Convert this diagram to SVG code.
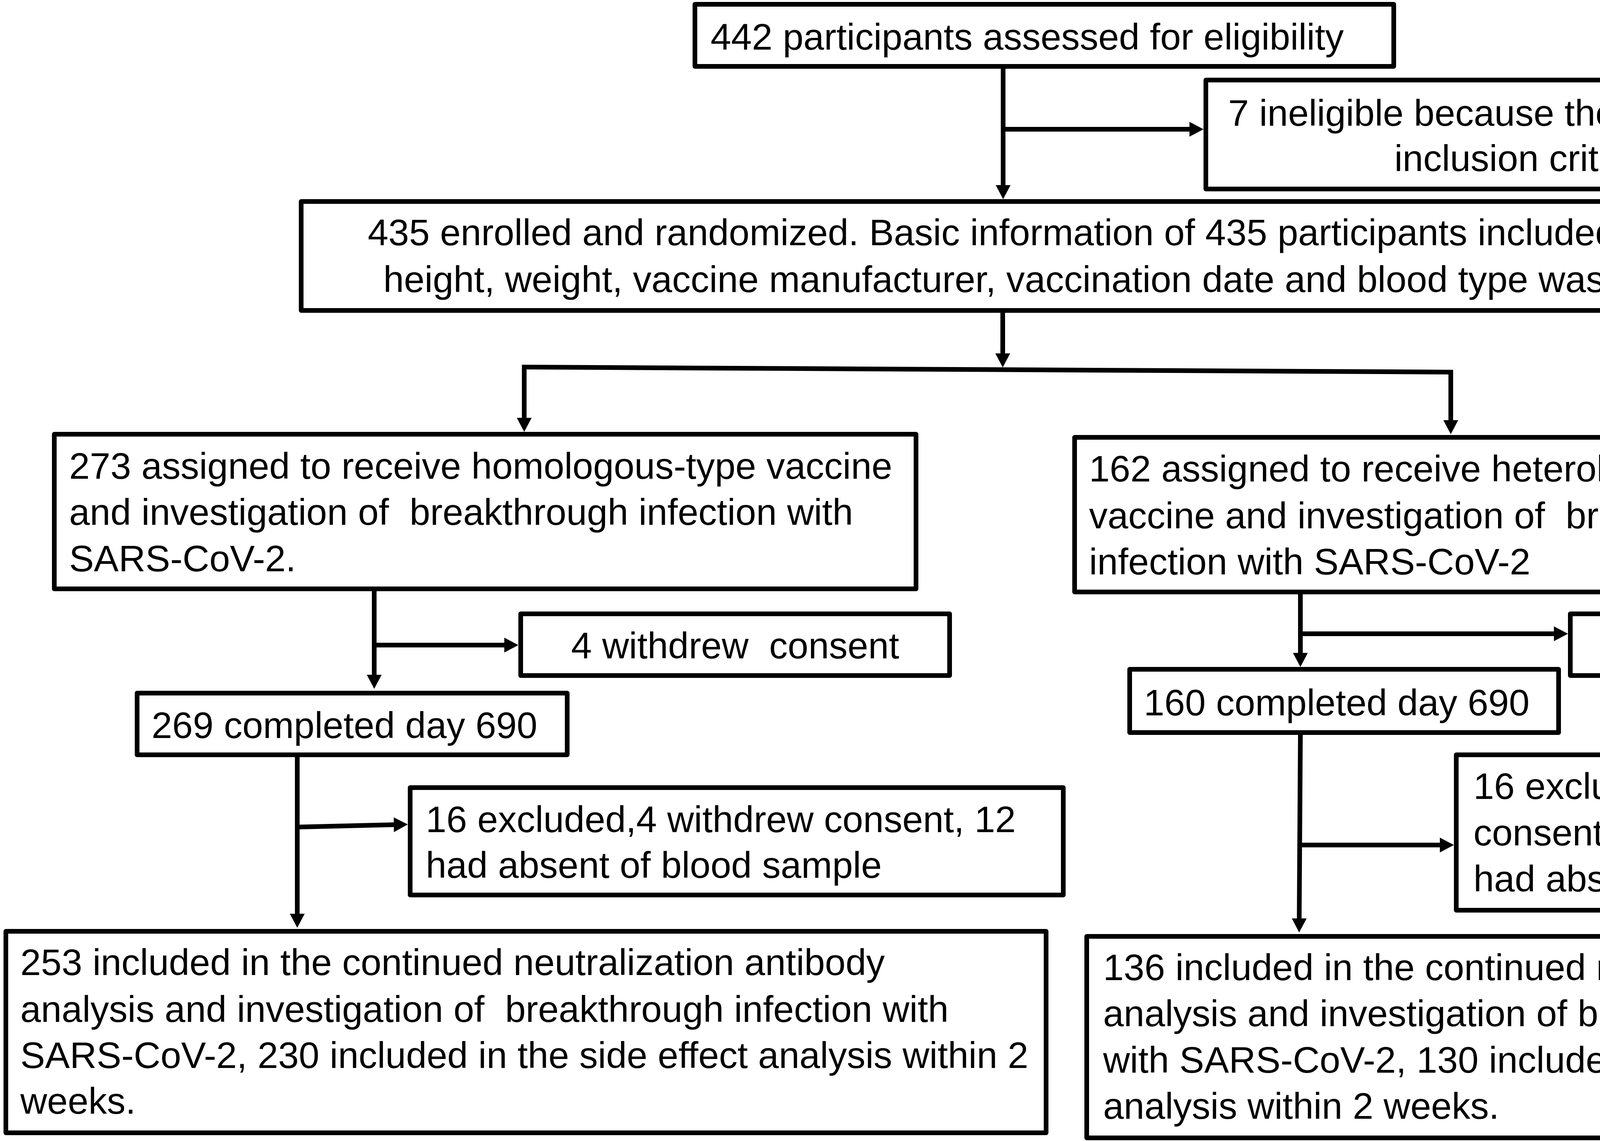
<svg xmlns="http://www.w3.org/2000/svg" width="5197" height="2922" viewBox="0 0 5197 2922">
<style>
.box{fill:#fff;stroke:#000;stroke-width:12;stroke-linejoin:round}
.t{font-family:"Liberation Sans",Arial,sans-serif;font-size:95px;fill:#000;white-space:pre}
.c{text-anchor:middle}
.ln{fill:none;stroke:#000;stroke-width:12}
</style>
<defs>
<marker id="ah" markerWidth="40" markerHeight="40" refX="0" refY="19" orient="auto" markerUnits="userSpaceOnUse">
<path d="M0,0 L36,19 L0,38 z" fill="#000"/>
</marker>
</defs>
<rect width="5197" height="2922" fill="#fff"/>
<g id="connectors">
<line class="ln" x1="2568" y1="171" x2="2568" y2="474" marker-end="url(#ah)"/>
<line class="ln" x1="2568" y1="331" x2="3045" y2="331" marker-end="url(#ah)"/>
<line class="ln" x1="2567" y1="801" x2="2567" y2="905" marker-end="url(#ah)"/>
<line class="ln" x1="1336" y1="940" x2="3720" y2="953"/>
<line class="ln" x1="1342" y1="940" x2="1342" y2="1070" marker-end="url(#ah)"/>
<line class="ln" x1="3714" y1="953" x2="3714" y2="1076" marker-end="url(#ah)"/>
<line class="ln" x1="958" y1="1514" x2="958" y2="1728" marker-end="url(#ah)"/>
<line class="ln" x1="958" y1="1652" x2="1291" y2="1652" marker-end="url(#ah)"/>
<line class="ln" x1="761" y1="1939" x2="761" y2="2340" marker-end="url(#ah)"/>
<line class="ln" x1="761" y1="2118" x2="1008" y2="2112" marker-end="url(#ah)"/>
<line class="ln" x1="3329" y1="1522" x2="3329" y2="1672" marker-end="url(#ah)"/>
<line class="ln" x1="3329" y1="1623" x2="3978" y2="1623" marker-end="url(#ah)"/>
<line class="ln" x1="3329" y1="1882" x2="3326" y2="2352" marker-end="url(#ah)"/>
<line class="ln" x1="3329" y1="2164" x2="3686" y2="2164" marker-end="url(#ah)"/>
</g>
<g id="n442">
<rect class="box" x="1779" y="11" width="1789" height="159"/>
<text class="t" x="1819" y="127">442 participants assessed for eligibility</text>
</g>
<g id="n7">
<rect class="box" x="3087" y="205" width="1647" height="279"/>
<text class="t c" x="3910" y="322">7 ineligible because they didn’t meet</text>
<text class="t c" x="3910" y="438">inclusion criteria</text>
</g>
<g id="n435">
<rect class="box" x="771" y="516" width="3945" height="279"/>
<text class="t c" x="2745" y="628">435 enrolled and randomized. Basic information of 435 participants included age, sex,</text>
<text class="t c" x="2745" y="748">height, weight, vaccine manufacturer, vaccination date and blood type was collected</text>
</g>
<g id="n273">
<rect class="box" x="139" y="1112" width="2206" height="396"/>
<text class="t" x="177" y="1226">273 assigned to receive homologous-type vaccine</text>
<text class="t" x="177" y="1344">and investigation of  breakthrough infection with</text>
<text class="t" x="177" y="1463">SARS-CoV-2.</text>
</g>
<g id="n4w">
<rect class="box" x="1333" y="1572" width="1098" height="158"/>
<text class="t c" x="1882" y="1686">4 withdrew  consent</text>
</g>
<g id="n269">
<rect class="box" x="351" y="1775" width="1101" height="158"/>
<text class="t" x="388" y="1890">269 completed day 690</text>
</g>
<g id="n16a">
<rect class="box" x="1050" y="2017" width="1672" height="275"/>
<text class="t" x="1090" y="2131">16 excluded,4 withdrew consent, 12</text>
<text class="t" x="1090" y="2248">had absent of blood sample</text>
</g>
<g id="n253">
<rect class="box" x="15" y="2385" width="2663" height="516"/>
<text class="t" x="52" y="2497">253 included in the continued neutralization antibody</text>
<text class="t" x="52" y="2617">analysis and investigation of  breakthrough infection with</text>
<text class="t" x="52" y="2735">SARS-CoV-2, 230 included in the side effect analysis within 2</text>
<text class="t" x="52" y="2852">weeks.</text>
</g>
<g id="n162">
<rect class="box" x="2751" y="1120" width="2213" height="396"/>
<text class="t" x="2788" y="1233">162 assigned to receive heterologous-type</text>
<text class="t" x="2788" y="1353">vaccine and investigation of  breakthrough</text>
<text class="t" x="2788" y="1471">infection with SARS-CoV-2</text>
</g>
<g id="n2w">
<rect class="box" x="4020" y="1572" width="1007" height="158"/>
<text class="t c" x="4522" y="1686">2 withdrew  consent</text>
</g>
<g id="n160">
<rect class="box" x="2892" y="1714" width="1098" height="162"/>
<text class="t" x="2928" y="1832">160 completed day 690</text>
</g>
<g id="n16b">
<rect class="box" x="3728" y="1933" width="1390" height="398"/>
<text class="t" x="3772" y="2046">16 excluded,3 withdrew</text>
<text class="t" x="3772" y="2165">consent,3 lost to follow-up, 10</text>
<text class="t" x="3772" y="2283">had absent of BMI data</text>
</g>
<g id="n136">
<rect class="box" x="2782" y="2398" width="2342" height="516"/>
<text class="t" x="2824" y="2510">136 included in the continued neutralization antibody</text>
<text class="t" x="2824" y="2628">analysis and investigation of breakthrough infection</text>
<text class="t" x="2824" y="2747">with SARS-CoV-2, 130 included in the side effect</text>
<text class="t" x="2824" y="2865">analysis within 2 weeks.</text>
</g>
</svg>
